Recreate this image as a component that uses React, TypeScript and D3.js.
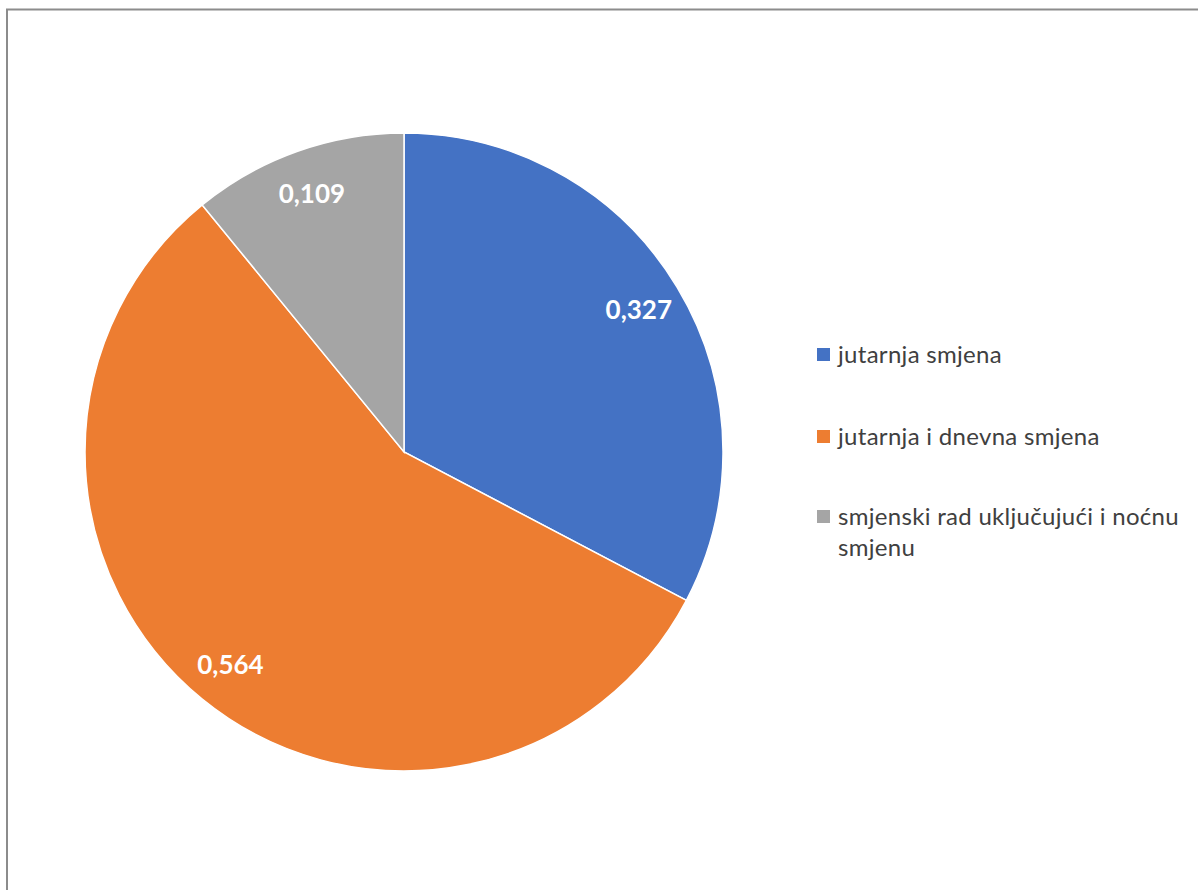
import React, { useEffect, useRef } from 'react';
import * as d3 from 'd3';

const categories = ['jutarnja smjena', 'jutarnja i dnevna smjena', 'smjenski rad uključujući i noćnu smjenu'];
const values = [0.327, 0.564, 0.109];
const colors = ['#4472C4', '#ED7D31', '#A5A5A5'];
const legendLines = [['jutarnja smjena'], ['jutarnja i dnevna smjena'], ['smjenski rad uključujući i noćnu', 'smjenu']];

const W = 1198;
const H = 890;

export default function App() {
  const ref = useRef<SVGSVGElement>(null);

  useEffect(() => {
    if (!ref.current) return;
    const svg = d3.select(ref.current);
    svg.selectAll('*').remove();

    // chart frame (runs off the right and bottom edges)
    svg.append('rect')
      .attr('x', 7).attr('y', 9.5)
      .attr('width', W + 20).attr('height', H + 20)
      .attr('fill', '#fff')
      .attr('stroke', '#8c8c8c')
      .attr('stroke-width', 2);

    const cx = 404;
    const cy = 452;
    const radius = 319;

    const data = categories.map((c, i) => ({ name: c, value: values[i], color: colors[i] }));
    const pie = d3.pie<any>().value(d => d.value).sort(null);
    const arcs = pie(data);
    const arc = d3.arc<any>().innerRadius(0).outerRadius(radius);
    const labelArc = d3.arc<any>().innerRadius(radius * 0.86).outerRadius(radius * 0.86);

    const g = svg.append('g').attr('transform', `translate(${cx},${cy})`);

    g.selectAll('path.slice')
      .data(arcs)
      .enter()
      .append('path')
      .attr('class', 'slice')
      .attr('d', arc)
      .attr('fill', d => d.data.color)
      .attr('stroke', '#fff')
      .attr('stroke-width', 1.5);

    g.selectAll('text.lbl')
      .data(arcs)
      .enter()
      .append('text')
      .attr('class', 'lbl')
      .attr('transform', d => {
        const [x, y] = labelArc.centroid(d);
        return `translate(${x},${y})`;
      })
      .attr('text-anchor', 'middle')
      .attr('dy', '0.35em')
      .attr('fill', '#fff')
      .attr('font-family', 'Lato, "Open Sans", sans-serif')
      .attr('font-weight', 'bold')
      .attr('font-size', 26)
      .text(d => d3.format('.3f')(d.data.value).replace('.', ','));

    // legend
    const legendX = 817;
    const legendY = [355, 437, 517];
    const lg = svg.append('g');
    legendLines.forEach((lines, i) => {
      lg.append('rect')
        .attr('x', legendX).attr('y', legendY[i] - 7)
        .attr('width', 13).attr('height', 13)
        .attr('fill', colors[i]);
      const t = lg.append('text')
        .attr('x', legendX + 21)
        .attr('y', legendY[i])
        .attr('fill', '#404040')
        .attr('font-family', 'Lato, "Open Sans", sans-serif')
        .attr('font-size', 24)
        .attr('letter-spacing', 0.3);
      lines.forEach((ln, j) => {
        t.append('tspan')
          .attr('x', legendX + 21)
          .attr('dy', j === 0 ? '0.35em' : 31)
          .text(ln);
      });
    });
  }, []);

  return (
    <svg
      ref={ref}
      width={W}
      height={H}
      style={{ position: 'absolute', left: 0, top: 0, background: '#fff' }}
    />
  );
}
